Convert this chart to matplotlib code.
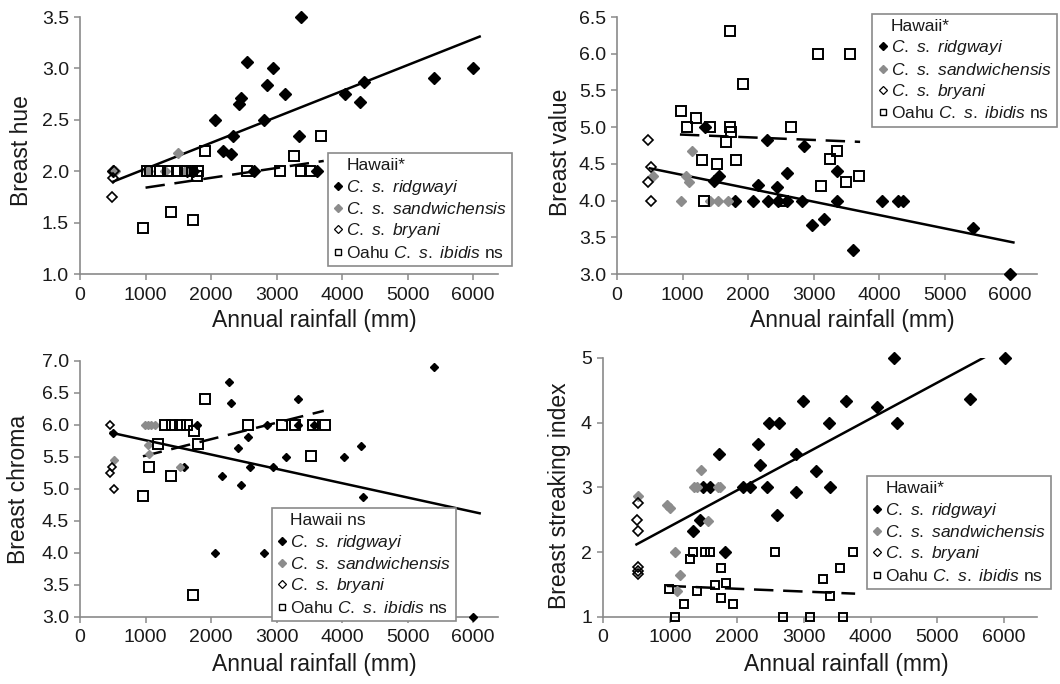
import numpy as np
import matplotlib
matplotlib.use('Agg')
import matplotlib.pyplot as plt
from matplotlib.lines import Line2D

# ---------------- Breast hue (top left) ----------------
hueRidgX = [510, 1630, 1730, 2060, 2180, 2300, 2330, 2420, 2460, 2550, 2650, 2810, 2850, 2950, 3130, 3370, 3340, 3620, 4050, 4280, 4330, 5400, 6000]
hueRidgY = [2.0, 2.0, 2.0, 2.5, 2.2, 2.17, 2.34, 2.65, 2.71, 3.06, 2.0, 2.5, 2.84, 3.0, 2.75, 3.5, 2.34, 2.0, 2.75, 2.67, 2.87, 2.91, 3.0]
hueSandX = [530, 1040, 1300, 1500, 1600]
hueSandY = [2.0, 2.0, 2.0, 2.18, 2.0]
hueBryX = [490, 500, 520]
hueBryY = [1.75, 1.93, 2.0]
hueOahuX = [960, 1020, 1070, 1220, 1340, 1390, 1480, 1600, 1710, 1720, 1780, 1800, 1910, 2550, 3060, 3270, 3380, 3510, 3680]
hueOahuY = [1.45, 2.0, 2.0, 2.0, 2.0, 1.6, 2.0, 2.0, 2.0, 1.53, 1.95, 2.0, 2.2, 2.0, 2.0, 2.15, 2.0, 2.0, 2.34]
hueHawaiiFitX = [510, 6100]
hueHawaiiFitY = [1.90, 3.31]
hueOahuFitX = [1000, 3720]
hueOahuFitY = [1.84, 2.10]

# ---------------- Breast value (top right) ----------------
valRidgX = [1350, 2290, 2850, 1560, 1480, 2590, 2155, 2435, 3350, 1800, 2080, 2310, 2460, 2590, 2830, 3350, 4050, 4290, 4370, 2970, 3160, 3600, 5430, 6000]
valRidgY = [5.0, 4.83, 4.74, 4.33, 4.26, 4.38, 4.21, 4.18, 4.4, 4.0, 4.0, 4.0, 4.0, 4.0, 4.0, 4.0, 4.0, 4.0, 4.0, 3.67, 3.75, 3.33, 3.63, 3.0]
valSandX = [1140, 980, 1100, 1050, 550, 1420, 1540, 1700]
valSandY = [4.68, 4.0, 4.25, 4.34, 4.34, 4.0, 4.0, 4.0]
valBryX = [475, 475, 525, 525]
valBryY = [4.82, 4.25, 4.46, 4.0]
valOahuX = [1720, 3060, 3560, 1930, 970, 1210, 1070, 1420, 1720, 1740, 1660, 2650, 1290, 1520, 1810, 1320, 2540, 3250, 3360, 3110, 3500, 3690]
valOahuY = [6.31, 6.0, 6.0, 5.59, 5.22, 5.13, 5.0, 5.0, 5.0, 4.94, 4.8, 5.0, 4.55, 4.5, 4.55, 4.0, 4.0, 4.57, 4.67, 4.2, 4.25, 4.33]
valHawaiiFitX = [500, 6050]
valHawaiiFitY = [4.44, 3.43]
valOahuFitX = [960, 3710]
valOahuFitY = [4.90, 4.80]

# ---------------- Breast chroma (bottom left) ----------------
chrRidgX = [500, 1790, 1580, 2060, 2160, 2280, 2300, 2410, 2450, 2560, 2600, 2810, 2850, 2950, 3140, 3330, 3330, 3570, 4030, 4290, 4320, 5400, 6000]
chrRidgY = [5.87, 6.0, 5.34, 4.0, 5.2, 6.67, 6.34, 5.64, 5.06, 5.81, 5.34, 4.0, 6.0, 5.34, 5.5, 6.41, 6.0, 6.0, 5.5, 5.67, 4.87, 6.91, 3.0]
chrSandX = [520, 990, 1040, 1090, 1145, 1040, 1060, 1530]
chrSandY = [5.45, 6.0, 6.0, 6.0, 6.0, 5.69, 5.55, 5.34]
chrBryX = [460, 490, 465, 525]
chrBryY = [6.0, 5.35, 5.25, 5.0]
chrOahuX = [965, 1060, 1190, 1390, 1900, 1720, 1740, 1800, 1300, 1400, 1530, 1630, 2570, 3080, 3280, 3560, 3740, 3520]
chrOahuY = [4.89, 5.34, 5.71, 5.2, 6.41, 3.35, 5.9, 5.71, 6.0, 6.0, 6.0, 6.0, 6.0, 6.0, 6.0, 6.0, 6.0, 5.51]
chrHawaiiFitX = [470, 6100]
chrHawaiiFitY = [5.88, 4.62]
chrOahuFitX = [960, 3720]
chrOahuFitY = [5.51, 6.22]

# ---------------- Breast streaking index (bottom right) ----------------
strRidgX = [1350, 1450, 1500, 1600, 1740, 1830, 2100, 2200, 2320, 2340, 2450, 2480, 2630, 2600, 2880, 2890, 2990, 3180, 3380, 3390, 3640, 4090, 4350, 4390, 5490, 6010]
strRidgY = [2.32, 2.49, 3.0, 3.0, 3.51, 2.0, 3.0, 3.0, 3.67, 3.34, 3.0, 4.0, 4.0, 2.58, 3.52, 2.93, 4.33, 3.25, 4.0, 3.0, 4.33, 4.25, 5.0, 4.0, 4.37, 5.0]
strSandX = [530, 950, 1000, 1360, 1470, 1570, 1720, 1070, 1150, 1100, 1400, 1750]
strSandY = [2.87, 2.73, 2.68, 3.0, 3.27, 2.48, 3.0, 2.0, 1.65, 1.40, 3.0, 3.0]
strBryX = [525, 510, 525, 525, 525, 525]
strBryY = [2.76, 2.50, 2.32, 1.77, 1.71, 1.66]
strOahuX = [990, 1070, 1210, 1300, 1350, 1410, 1520, 1600, 1670, 1760, 1760, 1840, 1950, 2570, 2690, 3100, 3290, 3390, 3540, 3590, 3740]
strOahuY = [1.43, 1.0, 1.2, 1.89, 2.0, 1.40, 2.0, 2.0, 1.5, 1.75, 1.30, 1.53, 1.2, 2.0, 1.0, 1.0, 1.59, 1.32, 1.75, 1.0, 2.0]
strHawaiiFitX = [500, 6100]
strHawaiiFitY = [2.12, 5.23]
strOahuFitX = [950, 3770]
strOahuFitY = [1.48, 1.36]

plt.rcParams['font.family'] = ['Liberation Sans', 'DejaVu Sans']
plt.rcParams['mathtext.fontset'] = 'custom'
plt.rcParams['mathtext.rm'] = 'Liberation Sans'
plt.rcParams['mathtext.it'] = 'Liberation Sans:italic'
plt.rcParams['lines.scale_dashes'] = False

spineCol = '#8a8a8a'
textCol = '#1a1a1a'
grey = '#8c8c8c'


def drawPanel(ax, ridg, sand, bry, oahu, hawaiiFit, oahuFit, ylim, yticks, yfmt, xmax, ylabel, ms):
    dms, sms, bms, qms = ms
    ax.plot(hawaiiFit[0], hawaiiFit[1], color='black', lw=1.8, zorder=2)
    ax.plot(oahuFit[0], oahuFit[1], color='black', lw=1.8, dashes=(14, 7), zorder=2)
    ax.plot(ridg[0], ridg[1], ls='none', marker='D', ms=dms, mfc='black', mec='black', zorder=3, clip_on=False)
    ax.plot(sand[0], sand[1], ls='none', marker='D', ms=sms, mfc=grey, mec=grey, zorder=3, clip_on=False)
    ax.plot(bry[0], bry[1], ls='none', marker='D', ms=bms, mfc='none', mec='black', mew=1.2, zorder=4, clip_on=False)
    ax.plot(oahu[0], oahu[1], ls='none', marker='s', ms=qms, mfc='none', mec='black', mew=1.4, zorder=4, clip_on=False)

    ax.set_xlim(0, xmax)
    ax.set_ylim(*ylim)
    ax.set_xticks(range(0, 7000, 1000))
    ax.set_yticks(yticks)
    ax.set_yticklabels([yfmt.format(v) for v in yticks])
    for s in ['top', 'right']:
        ax.spines[s].set_visible(False)
    for s in ['left', 'bottom']:
        ax.spines[s].set_color(spineCol)
        ax.spines[s].set_linewidth(1.2)
    ax.tick_params(axis='both', direction='out', length=4, width=1.1, color=spineCol,
                   labelsize=14, labelcolor=textCol)
    ax.tick_params(axis='x', pad=5)
    ax.tick_params(axis='y', pad=4)
    ax.set_xlabel('Annual rainfall (mm)', fontsize=16.5, color=textCol)
    ax.set_ylabel(ylabel, fontsize=16.5, color=textCol)


def addLegend(fig, title, anchor):
    handles = [
        Line2D([], [], ls='none'),
        Line2D([], [], ls='none', marker='D', ms=3.8, mfc='black', mec='black'),
        Line2D([], [], ls='none', marker='D', ms=3.8, mfc=grey, mec=grey),
        Line2D([], [], ls='none', marker='D', ms=3.8, mfc='none', mec='black', mew=0.9),
        Line2D([], [], ls='none', marker='s', ms=5, mfc='none', mec='black', mew=1.0),
    ]
    labels = [title,
              r'$\mathit{C.\ s.\ ridgwayi}$',
              r'$\mathit{C.\ s.\ sandwichensis}$',
              r'$\mathit{C.\ s.\ bryani}$',
              r'Oahu $\mathit{C.\ s.\ ibidis}$ ns']
    leg = fig.legend(handles, labels, loc='upper left', bbox_to_anchor=anchor,
                     fontsize=12.5, frameon=True, fancybox=False, framealpha=1,
                     edgecolor=spineCol, borderpad=0.3, labelspacing=0.25,
                     handlelength=0.6, handletextpad=0.15, borderaxespad=0)
    leg.get_frame().set_linewidth(1.2)
    for t in leg.get_texts():
        t.set_color(textCol)
    return leg


fig = plt.figure(figsize=(10.6, 6.84), dpi=100)

axTL = fig.add_axes([0.0755, 0.5994, 0.3943, 0.3757])
axTR = fig.add_axes([0.5821, 0.5994, 0.3962, 0.3757])
axBL = fig.add_axes([0.0755, 0.0980, 0.3943, 0.3743])
axBR = fig.add_axes([0.5689, 0.0980, 0.4094, 0.3787])

drawPanel(axTL, (hueRidgX, hueRidgY), (hueSandX, hueSandY), (hueBryX, hueBryY), (hueOahuX, hueOahuY),
          (hueHawaiiFitX, hueHawaiiFitY), (hueOahuFitX, hueOahuFitY),
          (1.0, 3.5), np.arange(1.0, 3.51, 0.5), '{:.1f}', 6380, 'Breast hue', (5.9, 5.0, 5.0, 6.8))
drawPanel(axTR, (valRidgX, valRidgY), (valSandX, valSandY), (valBryX, valBryY), (valOahuX, valOahuY),
          (valHawaiiFitX, valHawaiiFitY), (valOahuFitX, valOahuFitY),
          (3.0, 6.5), np.arange(3.0, 6.51, 0.5), '{:.1f}', 6410, 'Breast value', (5.9, 5.2, 5.0, 6.8))
drawPanel(axBL, (chrRidgX, chrRidgY), (chrSandX, chrSandY), (chrBryX, chrBryY), (chrOahuX, chrOahuY),
          (chrHawaiiFitX, chrHawaiiFitY), (chrOahuFitX, chrOahuFitY),
          (3.0, 7.0), np.arange(3.0, 7.01, 0.5), '{:.1f}', 6380, 'Breast chroma', (4.3, 4.0, 4.0, 6.8))
drawPanel(axBR, (strRidgX, strRidgY), (strSandX, strSandY), (strBryX, strBryY), (strOahuX, strOahuY),
          (strHawaiiFitX, strHawaiiFitY), (strOahuFitX, strOahuFitY),
          (1, 5), [1, 2, 3, 4, 5], '{:d}', 6490, 'Breast streaking index', (5.9, 5.2, 5.0, 6.3))

axTL.xaxis.set_label_coords(0.56, -0.135)
axTR.xaxis.set_label_coords(0.56, -0.135)
axBL.xaxis.set_label_coords(0.56, -0.14)
axBR.xaxis.set_label_coords(0.56, -0.14)
axTL.yaxis.set_label_coords(-0.113, 0.48)
axTR.yaxis.set_label_coords(-0.108, 0.475)
axBL.yaxis.set_label_coords(-0.12, 0.5)
axBR.yaxis.set_label_coords(-0.074, 0.47)

addLegend(fig, 'Hawaii*', (0.3094, 0.7763))
addLegend(fig, 'Hawaii*', (0.8230, 0.9800))
addLegend(fig, 'Hawaii ns', (0.2566, 0.2573))
addLegend(fig, 'Hawaii*', (0.8180, 0.3040))

fig.savefig('out.png', dpi=100)
